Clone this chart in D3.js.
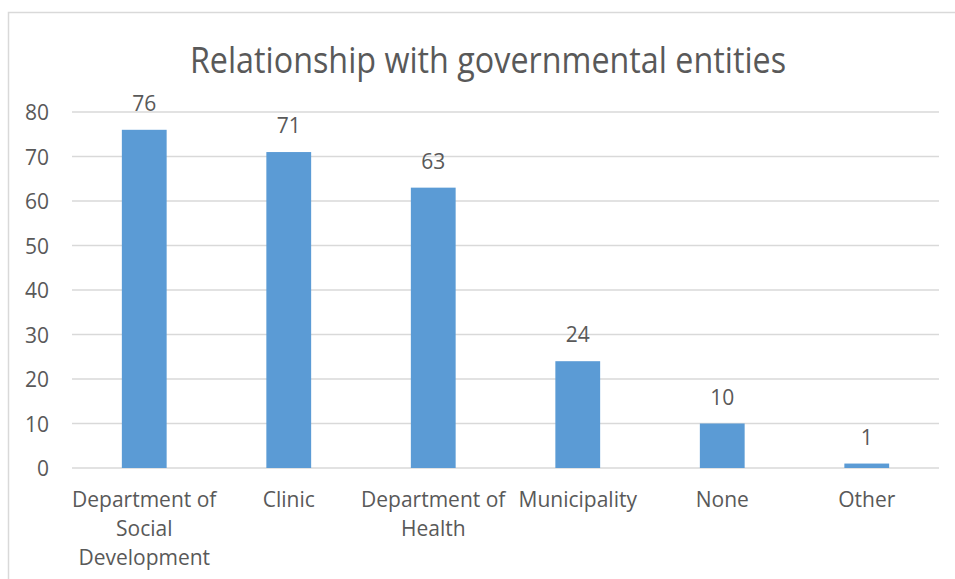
<!DOCTYPE html>
<html>
<head>
<meta charset="utf-8">
<script src="https://cdn.jsdelivr.net/npm/d3@7"></script>
<style>
  html, body { margin: 0; padding: 0; background: #fff; }
  svg { display: block; }
  text { font-family: "Open Sans", sans-serif; fill: #595959; }
</style>
</head>
<body>
<svg id="chart" width="955" height="579"></svg>
<script>
// Relationship with governmental entities — counts per entity
const categories = ["Department of Social Development", "Clinic", "Department of Health", "Municipality", "None", "Other"];
const counts = [76, 71, 63, 24, 10, 1];
const yTicks = [0, 10, 20, 30, 40, 50, 60, 70, 80];
const title = "Relationship with governmental entities";

const FONT = "'Open Sans', sans-serif";
const LABEL_SIZE = 21;
const LINE_GAP = 29;
const TITLE_SIZE = 32.3;
const TITLE_STRETCH = 1.12;   // title glyphs drawn slightly taller than wide
const plot = { left: 72, right: 939, top: 112, bottom: 468 };

const svg = d3.select("#chart");

// chart frame
svg.append("rect")
  .attr("x", 8.5).attr("y", 12.5)
  .attr("width", 960).attr("height", 600)
  .attr("fill", "#fff")
  .attr("stroke", "#d9d9d9").attr("stroke-width", 1.5);

const x = d3.scaleBand()
  .domain(categories)
  .range([plot.left, plot.right])
  .paddingInner(0.69).paddingOuter(0.345);

const y = d3.scaleLinear()
  .domain([0, 80])
  .range([plot.bottom, plot.top]);

// gridlines
svg.append("g")
  .selectAll("line")
  .data(yTicks)
  .join("line")
  .attr("x1", plot.left).attr("x2", plot.right)
  .attr("y1", d => y(d)).attr("y2", d => y(d))
  .attr("stroke", "#d9d9d9").attr("stroke-width", 1.5);

// y axis labels
const yAxis = d3.axisLeft(y).tickValues(yTicks).tickSize(0).tickPadding(0);
svg.append("g")
  .attr("transform", `translate(${49},0)`)
  .call(yAxis)
  .call(g => g.select(".domain").remove())
  .call(g => g.selectAll("text")
    .attr("font-family", FONT)
    .attr("font-size", LABEL_SIZE)
    .attr("fill", "#595959")
    .attr("x", 0)
    .attr("dy", "0.357em"));

// bars
svg.append("g")
  .selectAll("rect")
  .data(categories)
  .join("rect")
  .attr("x", d => x(d))
  .attr("width", x.bandwidth())
  .attr("y", (d, i) => y(counts[i]))
  .attr("height", (d, i) => y(0) - y(counts[i]))
  .attr("fill", "#5b9bd5");

// value labels
svg.append("g")
  .selectAll("text")
  .data(categories)
  .join("text")
  .attr("x", d => x(d) + x.bandwidth() / 2)
  .attr("y", (d, i) => y(counts[i]) - 19)
  .attr("text-anchor", "middle")
  .attr("font-size", LABEL_SIZE)
  .text((d, i) => counts[i]);

// category labels, wrapped to the band width
const xAxis = d3.axisBottom(x).tickSize(0).tickPadding(0);
const xg = svg.append("g")
  .attr("transform", `translate(0,${plot.bottom})`)
  .call(xAxis)
  .call(g => g.select(".domain").remove());

xg.selectAll("text")
  .attr("font-family", FONT)
  .attr("font-size", LABEL_SIZE)
  .attr("fill", "#595959")
  .attr("y", 0).attr("dy", null)
  .each(function(d) {
    const t = d3.select(this);
    const words = d.split(" ");
    const maxW = x.step() + 2;
    t.text(null);
    const lines = [];
    let cur = [];
    const probe = t.append("tspan");
    words.forEach(w => {
      const test = cur.concat([w]).join(" ");
      probe.text(test);
      if (probe.node().getComputedTextLength() > maxW && cur.length) {
        lines.push(cur.join(" "));
        cur = [w];
      } else {
        cur.push(w);
      }
    });
    lines.push(cur.join(" "));
    probe.remove();
    lines.forEach((ln, i) => {
      t.append("tspan")
        .attr("x", 0)
        .attr("y", 39 + i * LINE_GAP)
        .text(ln);
    });
  });

// title
svg.append("text")
  .attr("transform", `translate(488,73) scale(1,${TITLE_STRETCH})`)
  .attr("text-anchor", "middle")
  .attr("font-size", TITLE_SIZE)
  .text(title);
</script>
</body>
</html>
